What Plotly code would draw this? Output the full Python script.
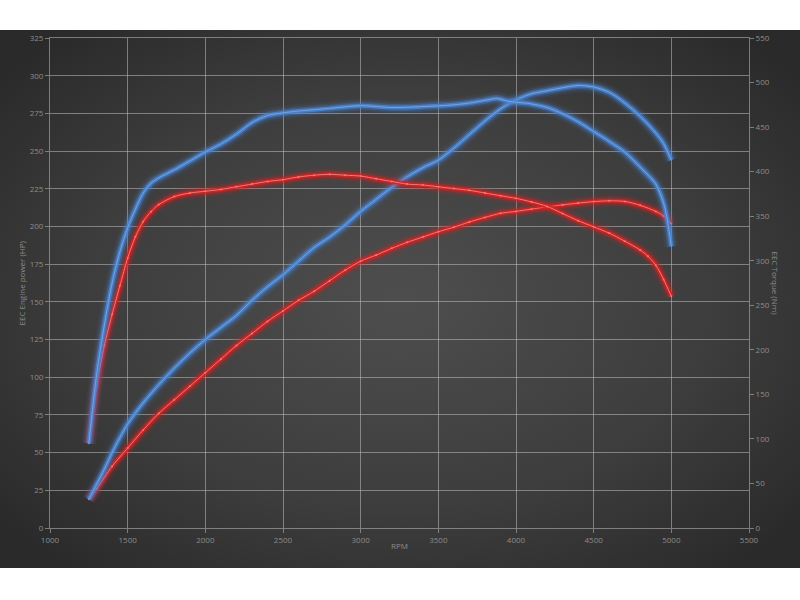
import base64
import plotly.graph_objects as go

# ---------------- data ----------------
rpm_tq_blue = [1250, 1300, 1350, 1400, 1450, 1500, 1550, 1600, 1650, 1700, 1800, 1900, 2000,
               2100, 2200, 2300, 2400, 2500, 2600, 2800, 3000, 3200, 3400, 3600, 3700, 3800,
               3880, 3950, 4000, 4100, 4200, 4300, 4400, 4500, 4600, 4700, 4800, 4900, 4950,
               4975, 5000]
tq_blue = [95, 172, 228, 275, 310, 337, 358, 376, 387, 393, 402, 412, 422,
           431, 442, 455, 463, 466, 468, 471, 474, 472, 473, 475, 477, 480,
           482, 479, 478, 476, 472, 465, 456, 445, 434, 422, 405, 386, 365,
           345, 316]

rpm_tq_red = [1250, 1300, 1350, 1400, 1450, 1500, 1550, 1600, 1650, 1700, 1800, 1900, 2000,
              2100, 2200, 2300, 2400, 2500, 2600, 2700, 2800, 2900, 3000, 3100, 3200, 3300,
              3400, 3500, 3600, 3700, 3800, 3900, 4000, 4100, 4200, 4300, 4400, 4500, 4600,
              4700, 4800, 4850, 4900, 4950, 5000]
tq_red = [95, 160, 205, 240, 272, 303, 327, 344, 355, 363, 372, 376, 378,
          380, 383, 386, 389, 391, 394, 396, 397, 396, 395, 392, 389, 386,
          385, 383, 381, 379, 376, 373, 370, 366, 361, 353, 345, 338, 331,
          322, 312, 305, 295, 279, 260]

rpm_pw_blue = [1250, 1300, 1350, 1400, 1450, 1500, 1600, 1700, 1800, 1900, 2000, 2100, 2200,
               2300, 2400, 2500, 2600, 2700, 2800, 2900, 3000, 3100, 3200, 3300, 3400, 3500,
               3600, 3700, 3800, 3900, 4000, 4100, 4200, 4300, 4400, 4500, 4600, 4700, 4800,
               4900, 4950, 5000]
pw_blue = [19, 29, 39, 50, 60, 69, 83, 95, 106, 116, 125, 133, 141,
           151, 160, 168, 177, 186, 193, 201, 210, 218, 226, 233, 239, 244,
           252, 261, 270, 278, 284, 288, 290, 292, 293.5, 292.5, 289, 282, 273,
           262, 255, 244]

rpm_pw_red = [1250, 1300, 1400, 1500, 1600, 1700, 1800, 1900, 2000, 2100, 2200, 2300, 2400,
              2500, 2600, 2700, 2800, 2900, 3000, 3100, 3200, 3300, 3400, 3500, 3600, 3700,
              3800, 3900, 4000, 4100, 4200, 4300, 4400, 4500, 4600, 4700, 4800, 4900, 4950,
              5000]
pw_red = [19, 26, 41, 53, 65, 76, 85, 94, 103, 112, 121, 129, 137,
          144, 151, 157, 164, 171, 177, 181, 185.5, 189.5, 193, 196.5, 199.5, 203,
          206, 208.7, 210, 211.5, 213, 214.3, 215.5, 216.5, 217, 216.6, 214, 210, 207,
          202]

x_ticks = [1000, 1500, 2000, 2500, 3000, 3500, 4000, 4500, 5000, 5500]

# ---------------- figure ----------------
fig = go.Figure()

def glow(x, y, axis, main, core, dots):
    layers = [(14, main, 0.08), (10, main, 0.14), (7, main, 0.30), (4, main, 0.85)]
    for w, c, op in layers:
        fig.add_trace(go.Scatter(x=x, y=y, yaxis=axis, mode="lines",
                                 line=dict(color=c, width=w, shape="spline", smoothing=0.8),
                                 opacity=op, hoverinfo="skip", showlegend=False))
    fig.add_trace(go.Scatter(x=x, y=y, yaxis=axis, mode="lines+markers" if dots else "lines",
                             line=dict(color=core, width=1, shape="spline", smoothing=0.8),
                             marker=dict(size=2, color=core),
                             opacity=0.8, hoverinfo="skip", showlegend=False))

BLUE = "#4a84d2"
BLUE_CORE = "#7eaee8"
RED = "#d42424"
RED_CORE = "#ff8c8c"

glow(rpm_pw_red, pw_red, "y", RED, RED_CORE, True)
glow(rpm_tq_red, tq_red, "y2", RED, RED_CORE, True)
glow(rpm_pw_blue, pw_blue, "y", BLUE, BLUE_CORE, False)
glow(rpm_tq_blue, tq_blue, "y2", BLUE, BLUE_CORE, False)

svg = """<svg xmlns='http://www.w3.org/2000/svg' width='800' height='538' preserveAspectRatio='none'>
<defs><radialGradient id='g' cx='50%' cy='50%' r='65%'>
<stop offset='0%' stop-color='#4e4e4e'/><stop offset='60%' stop-color='#3d3d3d'/>
<stop offset='100%' stop-color='#2a2a2a'/></radialGradient></defs>
<rect width='800' height='538' fill='url(#g)'/></svg>"""
src = "data:image/svg+xml;base64," + base64.b64encode(svg.encode()).decode()

PW = 699.0
PH = 490.0
L, T = 50, 38

fig.add_layout_image(dict(source=src, xref="paper", yref="paper",
                          x=-L / PW, y=(528 - 30) / PH, sizex=800 / PW, sizey=538 / PH,
                          xanchor="left", yanchor="top", sizing="stretch", layer="below"))

GRID = "rgba(190,190,190,0.55)"
TXT = "#8c8c8c"
FONT = "Open Sans"

fig.update_layout(
    width=800, height=600,
    margin=dict(l=50, r=51, t=38, b=72),
    paper_bgcolor="white",
    plot_bgcolor="rgba(0,0,0,0)",
    font=dict(family=FONT, size=8, color=TXT),
    showlegend=False,
    xaxis=dict(range=[1000, 5500], tickvals=x_ticks, showgrid=True, gridcolor=GRID, gridwidth=1,
               zeroline=False, showline=True, linecolor=GRID, mirror=True,
               ticks="outside", ticklen=4, tickcolor=GRID, tickfont=dict(size=8, color=TXT)),
    yaxis=dict(range=[0, 325], dtick=25, showgrid=True, gridcolor=GRID, gridwidth=1,
               zeroline=False, showline=True, linecolor=GRID, mirror=True,
               ticks="outside", ticklen=4, tickcolor=GRID, tickfont=dict(size=8, color=TXT)),
    yaxis2=dict(range=[0, 550], dtick=50, overlaying="y", side="right", showgrid=False,
                zeroline=False, showline=False,
                ticks="outside", ticklen=4, tickcolor=GRID, tickfont=dict(size=8, color=TXT)),
    annotations=[
        dict(text="EEC Engine power (HP)", xref="paper", yref="paper",
             x=(13 - L) / PW, y=0.5, textangle=-90, showarrow=False,
             font=dict(size=8, color=TXT)),
        dict(text="EEC Torque (Nm)", xref="paper", yref="paper",
             x=(783 - L) / PW, y=0.5, textangle=90, showarrow=False,
             font=dict(size=8, color=TXT)),
        dict(text="RPM", xref="paper", yref="paper",
             x=0.5, y=(528 - 553) / PH, showarrow=False,
             font=dict(size=8, color=TXT)),
    ],
)

fig.write_html("out.html", config={"displayModeBar": False},
               post_script="document.body.style.margin='0';document.body.style.overflow='hidden';")
